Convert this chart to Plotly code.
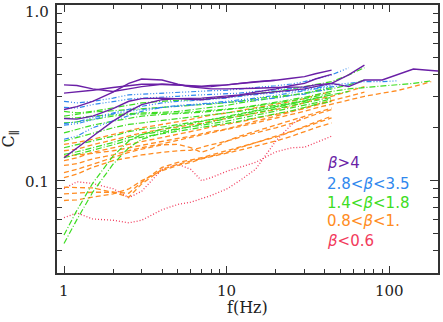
import numpy as np
import plotly.graph_objects as go

# ---------------- data ----------------
FREQ = [1, 1.2, 1.5, 2, 2.5, 3, 4, 5, 6, 7, 8, 10, 12, 15, 20, 25, 30, 35, 44,
        56, 70, 90, 110, 140, 180, 200]

# beta > 4 (solid)
PURPLE = [
    [0.351, 0.348, 0.333, 0.322, 0.333, 0.343, 0.354, 0.351, 0.345, 0.342, 0.343, 0.351, 0.357, 0.366, 0.373],
    [0.315, 0.319, 0.327, 0.339, 0.348, 0.354, 0.354, 0.351, 0.348, 0.345, 0.348, 0.351, 0.357, 0.363, 0.373,
     0.383, 0.391, 0.406, 0.426],
    [0.254, 0.264, 0.283, 0.319, 0.358, 0.379, 0.374, 0.354, 0.342, 0.336, 0.333, 0.333, 0.333, 0.336, 0.339,
     0.339, 0.342, 0.351, 0.358, 0.343, 0.374, 0.374, 0.400, 0.432, 0.424, 0.421],
    [0.226, 0.224, 0.233, 0.257, 0.283, 0.293, 0.295, 0.293, 0.289, 0.289, 0.293, 0.298, 0.306, 0.313, 0.322,
     0.327, 0.333, 0.343, 0.358, 0.400, 0.455],
    [0.135, 0.154, 0.179, 0.218, 0.248, 0.271, 0.289, 0.293, 0.293, 0.295, 0.298, 0.302, 0.308, 0.319, 0.333,
     0.348, 0.358, 0.379, 0.403],
]

# 2.8 < beta < 3.5 (dash-dot-dot-dot)
BLUE = [
    [0.283, 0.277, 0.283, 0.295, 0.308, 0.311, 0.315, 0.319, 0.322, 0.325, 0.325, 0.327, 0.333, 0.339, 0.347,
     0.355, 0.366, 0.379, 0.400, 0.439],
    [0.261, 0.259, 0.271, 0.283, 0.291, 0.295, 0.298, 0.302, 0.306, 0.308, 0.308, 0.311, 0.315, 0.322, 0.329,
     0.333, 0.339, 0.343, 0.351, 0.358, 0.366, 0.366, 0.370],
    [0.211, 0.216, 0.228, 0.243, 0.257, 0.265, 0.277, 0.283, 0.285, 0.288, 0.290, 0.295, 0.302, 0.308, 0.319,
     0.325, 0.329, 0.336, 0.347],
    [0.172, 0.179, 0.200, 0.218, 0.233, 0.248, 0.261, 0.268, 0.271, 0.273, 0.277, 0.283, 0.288, 0.295, 0.306,
     0.315, 0.325, 0.333, 0.343, 0.351],
    [0.207, 0.211, 0.222, 0.240, 0.248, 0.254, 0.261, 0.265, 0.268, 0.271, 0.273, 0.277, 0.283, 0.288, 0.295,
     0.306, 0.311, 0.322, 0.333],
]

# 1.4 < beta < 1.8 (dash-dot)
GREEN = [
    [0.248, 0.243, 0.248, 0.259, 0.268, 0.277, 0.283, 0.285, 0.289, 0.293, 0.295, 0.300, 0.306, 0.313, 0.322,
     0.333, 0.343, 0.351, 0.366, 0.400, 0.439],
    [0.233, 0.238, 0.246, 0.250, 0.254, 0.257, 0.261, 0.265, 0.268, 0.271, 0.273, 0.277, 0.283, 0.293, 0.302,
     0.308, 0.313, 0.322, 0.333, 0.351, 0.374],
    [0.226, 0.228, 0.233, 0.238, 0.240, 0.243, 0.245, 0.248, 0.253, 0.257, 0.261, 0.268, 0.277, 0.285, 0.295,
     0.306, 0.315, 0.325, 0.339],
    [0.213, 0.216, 0.223, 0.233, 0.238, 0.240, 0.242, 0.243, 0.246, 0.248, 0.250, 0.254, 0.259, 0.268, 0.279,
     0.289, 0.298, 0.308, 0.322, 0.333, 0.339, 0.343, 0.351, 0.358, 0.370],
    [0.187, 0.196, 0.207, 0.218, 0.226, 0.233, 0.238, 0.240, 0.243, 0.245, 0.248, 0.253, 0.259, 0.266, 0.277,
     0.285, 0.293, 0.302, 0.315],
    [0.168, 0.176, 0.187, 0.200, 0.209, 0.213, 0.220, 0.226, 0.230, 0.233, 0.238, 0.243, 0.248, 0.257, 0.268,
     0.277, 0.285, 0.295, 0.308, 0.322],
    [0.154, 0.160, 0.168, 0.179, 0.190, 0.196, 0.202, 0.209, 0.213, 0.218, 0.223, 0.230, 0.238, 0.248, 0.261,
     0.273, 0.283, 0.293],
    [0.141, 0.146, 0.154, 0.165, 0.176, 0.183, 0.191, 0.197, 0.202, 0.207, 0.211, 0.218, 0.226, 0.236, 0.248,
     0.259, 0.268, 0.277, 0.293],
    [0.135, 0.141, 0.149, 0.160, 0.170, 0.177, 0.185, 0.191, 0.196, 0.200, 0.204, 0.211, 0.218, 0.228, 0.240,
     0.250, 0.261, 0.271, 0.283],
    [0.0439, 0.0600, 0.0859, 0.124, 0.154, 0.172, 0.187, 0.196, 0.204, 0.211, 0.216, 0.226, 0.233, 0.243, 0.257,
     0.268, 0.277, 0.285, 0.298],
    [0.0490, 0.0677, 0.0966, 0.138, 0.168, 0.183, 0.196, 0.204, 0.211, 0.218, 0.224, 0.232, 0.240, 0.250, 0.264,
     0.275, 0.285, 0.295, 0.308],
]

# 0.8 < beta < 1 (dashed)
ORANGE = [
    [0.161, 0.165, 0.172, 0.183, 0.193, 0.200, 0.209, 0.216, 0.223, 0.230, 0.236, 0.243, 0.250, 0.259, 0.271,
     0.283, 0.293, 0.306, 0.322],
    [0.148, 0.151, 0.160, 0.170, 0.179, 0.187, 0.196, 0.202, 0.207, 0.212, 0.218, 0.226, 0.234, 0.243, 0.254,
     0.265, 0.277, 0.289, 0.302, 0.322, 0.343],
    [0.130, 0.135, 0.145, 0.154, 0.161, 0.167, 0.176, 0.183, 0.190, 0.196, 0.202, 0.209, 0.216, 0.226, 0.238,
     0.248, 0.257, 0.268, 0.283],
    [0.122, 0.125, 0.133, 0.140, 0.148, 0.154, 0.162, 0.170, 0.176, 0.182, 0.187, 0.196, 0.203, 0.213, 0.226,
     0.238, 0.248, 0.259, 0.273, 0.289, 0.302, 0.315, 0.325, 0.343, 0.366],
    [0.111, 0.116, 0.124, 0.135, 0.145, 0.151, 0.160, 0.161, 0.154, 0.145, 0.151, 0.168, 0.179, 0.191, 0.207,
     0.220, 0.233, 0.243, 0.259],
    [0.104, 0.109, 0.119, 0.130, 0.135, 0.140, 0.145, 0.148, 0.149, 0.154, 0.160, 0.168, 0.177, 0.187, 0.200,
     0.212, 0.226, 0.238, 0.254],
    [0.0917, 0.0917, 0.0909, 0.0859, 0.0805, 0.0958, 0.116, 0.124, 0.129, 0.133, 0.137, 0.145, 0.154, 0.165,
     0.179, 0.191, 0.204, 0.216, 0.233],
    [0.0841, 0.0848, 0.0859, 0.0859, 0.0848, 0.0979, 0.119, 0.127, 0.131, 0.135, 0.140, 0.148, 0.155, 0.165,
     0.177, 0.190, 0.202, 0.213, 0.228],
    [0.0771, 0.0778, 0.0805, 0.0841, 0.0897, 0.100, 0.114, 0.122, 0.127, 0.133, 0.137, 0.143, 0.149, 0.157,
     0.168, 0.179, 0.190, 0.200, 0.213],
    [0.138, 0.140, 0.143, 0.148, 0.154, 0.160, 0.168, 0.174, 0.179, 0.185, 0.190, 0.197, 0.207, 0.218, 0.233,
     0.246, 0.259, 0.271, 0.285, 0.302, 0.319],
]

# beta < 0.6 (dotted)
RED = [
    [0.090, 0.0985, 0.0965, 0.090, 0.080, 0.087, 0.116, 0.124, 0.116, 0.100, 0.104, 0.113, 0.119, 0.127, 0.146,
     0.154, 0.155, 0.164, 0.179],
    [0.0615, 0.0655, 0.0605, 0.0595, 0.0575, 0.0595, 0.0683, 0.0732, 0.0754, 0.0788, 0.0823, 0.0897, 0.100,
     0.116, 0.168, 0.209, 0.232],
]

LEGEND_LABELS = ["<i>β</i>&gt;4", "2.8&lt;<i>β</i>&lt;3.5", "1.4&lt;<i>β</i>&lt;1.8",
                 "0.8&lt;<i>β</i>&lt;1.", "<i>β</i>&lt;0.6"]
X_TICK_VALUES = [1, 10, 100]
X_TICK_LABELS = ["1", "10", "100"]
Y_TICK_VALUES = [1.0, 0.1]
Y_TICK_LABELS = ["1.0", "0.1"]
X_TITLE = "f(Hz)"
Y_TITLE = "C<sub>∥</sub>"

# ---------------- styles ----------------
COL_PURPLE = "#6a1fa6"
COL_BLUE = "#2f88ee"
COL_GREEN = "#3ddd22"
COL_ORANGE = "#ff8c22"
COL_RED = "#f23a5c"
AXIS_COL = "#333333"
SERIF = "DejaVu Serif"
SANS = "DejaVu Sans"

groups = [
    (RED, COL_RED, "1px,2px", 1.3),
    (ORANGE, COL_ORANGE, "5px,3px", 1.3),
    (GREEN, COL_GREEN, "6px,2px,1px,2px", 1.2),
    (BLUE, COL_BLUE, "5px,2px,1px,2px,1px,2px,1px,2px", 1.2),
    (PURPLE, COL_PURPLE, "solid", 1.4),
]

fig = go.Figure()
for series_list, col, dash, w in groups:
    for vals in series_list:
        fig.add_trace(go.Scatter(
            x=FREQ[:len(vals)], y=vals, mode="lines",
            line=dict(color=col, dash=dash, width=w),
            hoverinfo="skip", showlegend=False))

x_minor = [m * d for d in (1, 10) for m in range(2, 10)] + [200]
y_minor = [m * d for d in (0.01, 0.1) for m in range(2, 10) if m * d > 0.029]

common = dict(showgrid=False, zeroline=False, showline=True, linecolor=AXIS_COL,
              linewidth=1.5, mirror="allticks", ticks="inside", tickwidth=1,
              tickcolor=AXIS_COL, showticklabels=False)

fig.update_layout(
    width=443, height=322,
    margin=dict(l=57, r=3, t=3, b=49),
    plot_bgcolor="white", paper_bgcolor="white",
    showlegend=False,
    xaxis=dict(type="log", range=[-0.043, 2.297], tickvals=X_TICK_VALUES, ticklen=7,
               minor=dict(tickvals=x_minor, ticks="inside", ticklen=4,
                          tickcolor=AXIS_COL, tickwidth=1, showgrid=False),
               **common),
    yaxis=dict(type="log", range=[np.log10(0.0298), 0], tickvals=Y_TICK_VALUES, ticklen=8,
               minor=dict(tickvals=y_minor, ticks="inside", ticklen=5,
                          tickcolor=AXIS_COL, tickwidth=1, showgrid=False),
               **common),
)

ann = []
for v, t in zip(X_TICK_VALUES, X_TICK_LABELS):
    ann.append(dict(x=np.log10(v), xref="x", y=0, yref="paper", yshift=-18, text=t,
                    showarrow=False, xanchor="center", yanchor="middle",
                    font=dict(family=SERIF, size=15, color="#222")))
y_shifts = [-7, -1.5]
for v, t, s in zip(Y_TICK_VALUES, Y_TICK_LABELS, y_shifts):
    ann.append(dict(x=-0.017, xref="paper", y=np.log10(v), yref="y", yshift=s, text=t,
                    showarrow=False, xanchor="right", yanchor="middle",
                    font=dict(family=SERIF, size=15, color="#222")))
ann.append(dict(x=0.5, xref="paper", y=0, yref="paper", yshift=-34, text=X_TITLE,
                showarrow=False, xanchor="center", yanchor="middle",
                font=dict(family=SERIF, size=16, color="#222")))
ann.append(dict(x=-0.125, xref="paper", y=0.5, yref="paper", text=Y_TITLE, textangle=-90,
                showarrow=False, xanchor="center", yanchor="middle",
                font=dict(family=SERIF, size=16, color="#222")))
leg_cols = [COL_PURPLE, COL_BLUE, COL_GREEN, COL_ORANGE, COL_RED]
leg_y = [0.409, 0.332, 0.260, 0.193, 0.119]
for t, c, yy in zip(LEGEND_LABELS, leg_cols, leg_y):
    ann.append(dict(x=0.703, xref="paper", y=yy, yref="paper", text=t, showarrow=False,
                    xanchor="left", yanchor="middle",
                    font=dict(family=SANS, size=15, color=c)))
fig.update_layout(annotations=ann)

fig.write_html("out.html", config={"displayModeBar": False},
               post_script="document.body.style.margin='0px';")
